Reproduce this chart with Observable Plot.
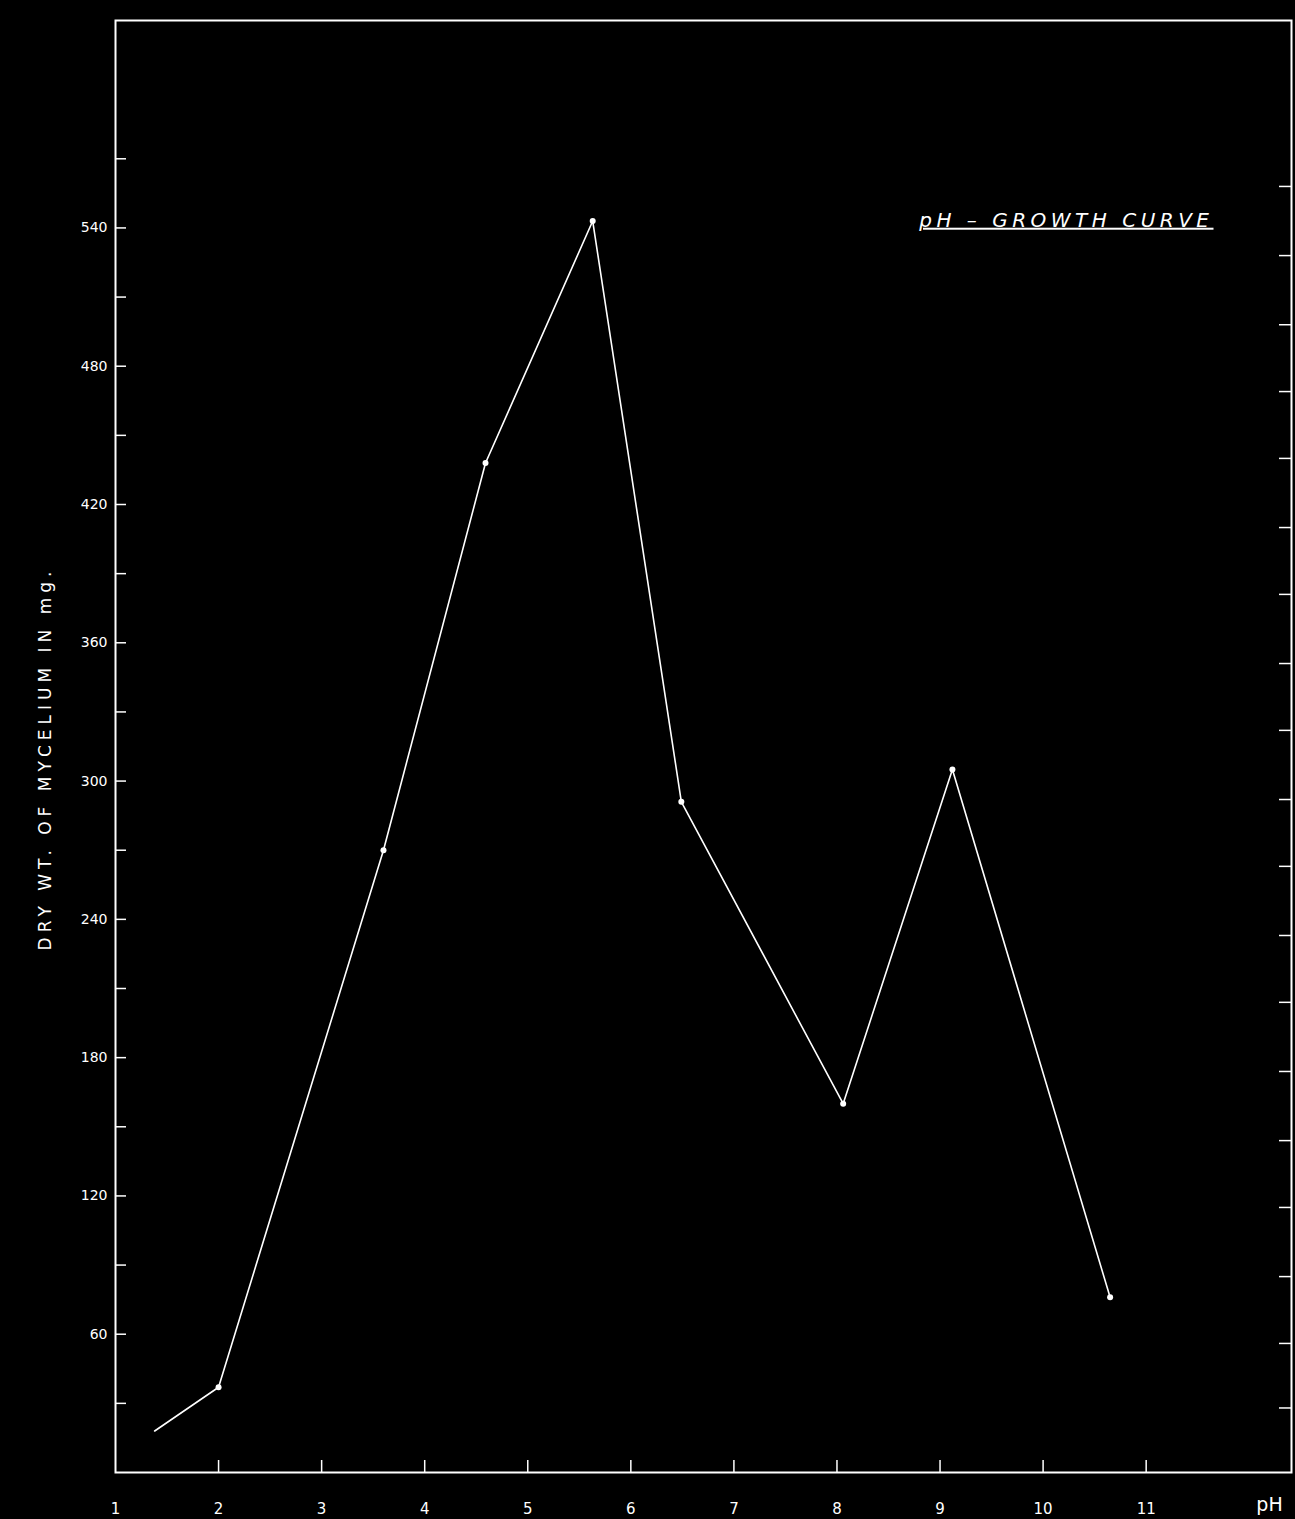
<!DOCTYPE html>
<html>
<head>
<meta charset="utf-8">
<script src="https://cdn.jsdelivr.net/npm/d3@7"></script>
<script src="https://cdn.jsdelivr.net/npm/@observablehq/plot@0.6"></script>
<style>
  html, body { margin: 0; padding: 0; background: #000; }
  #chart svg { display: block; }
</style>
</head>
<body>
<div id="chart"></div>
<script>
// pH of the medium and dry weight of mycelium (mg)
const ph     = [1.38, 2.0, 3.6, 4.59, 5.63, 6.49, 8.06, 9.12, 10.65];
const weight = [18, 37, 270, 438, 543, 291, 160, 305, 76];
const marked = [false, true, true, true, true, true, true, true, true];

const yLabelTicks = [60, 120, 180, 240, 300, 360, 420, 480, 540];
const yMinorTicks = [30, 90, 150, 210, 270, 330, 390, 450, 510, 570];
const rightTicks  = [28, 56, 85, 115, 144, 174, 204, 233, 263, 292, 322, 351, 381, 410, 440, 469, 498, 528, 558];
const xTicks      = [2, 3, 4, 5, 6, 7, 8, 9, 10, 11];
const xLabels     = [1, 2, 3, 4, 5, 6, 7, 8, 9, 10, 11];

const title  = "pH – GROWTH CURVE";
const yTitle = "DRY WT. OF MYCELIUM IN mg.";
const xTitle = "pH";

const data = ph.map((p, i) => ({ph: p, weight: weight[i], marked: marked[i]}));

const font = "'DejaVu Sans', sans-serif";

const chart = Plot.plot({
  width: 1295,
  height: 1519,
  marginLeft: 115,
  marginRight: 4,
  marginTop: 20,
  marginBottom: 47,
  style: {background: "#000", color: "#fff", fontFamily: font},
  x: {domain: [1, 12.41]},
  y: {domain: [0, 630]},
  marks: [
    Plot.frame({stroke: "#fff", strokeWidth: 2}),
    // left axis: labelled ticks (inward) and minor ticks
    Plot.axisY({anchor: "left", ticks: yLabelTicks, tickSize: -11, tickPadding: 19,
      fontSize: 14, fill: "#fff", stroke: "#fff", strokeWidth: 1.5, label: null}),
    Plot.axisY({anchor: "left", ticks: yMinorTicks, tickSize: -11, tickFormat: () => "",
      stroke: "#fff", strokeWidth: 1.5, label: null}),
    // right axis ticks (inward)
    Plot.axisY({anchor: "right", ticks: rightTicks, tickSize: -13, tickFormat: () => "",
      stroke: "#fff", strokeWidth: 1.5, label: null}),
    // bottom axis ticks (inward) and labels
    Plot.axisX({anchor: "bottom", ticks: xTicks, tickSize: -12, tickFormat: () => "",
      stroke: "#fff", strokeWidth: 1.5, label: null}),
    Plot.axisX({anchor: "bottom", ticks: xLabels, tickSize: 0, tickPadding: 31,
      fontSize: 15, fill: "#fff", label: null}),
    Plot.text([xTitle], {frameAnchor: "bottom-right", dx: -22, dy: 38, text: d => d,
      fontSize: 19, fill: "#fff", textAnchor: "middle"}),
    Plot.text([yTitle], {frameAnchor: "left", dx: -70, dy: 12, rotate: -90, text: d => d,
      fontSize: 17, fill: "#fff", textAnchor: "middle", className: "ytitle"}),
    Plot.text([title], {frameAnchor: "top-right", dx: -78, dy: 192, text: d => d,
      fontSize: 20, fill: "#fff", textAnchor: "end", fontStyle: "italic", className: "title"}),
    // curve
    Plot.line(data, {x: "ph", y: "weight", stroke: "#fff", strokeWidth: 1.6}),
    Plot.dot(data.filter(d => d.marked), {x: "ph", y: "weight", r: 3, fill: "#fff", stroke: "none"})
  ]
});

d3.select(chart).selectAll(".title text")
  .style("text-decoration", "underline")
  .style("letter-spacing", "4.5px");
d3.select(chart).selectAll(".ytitle text")
  .style("letter-spacing", "5px");

document.getElementById("chart").appendChild(chart);
</script>
</body>
</html>
